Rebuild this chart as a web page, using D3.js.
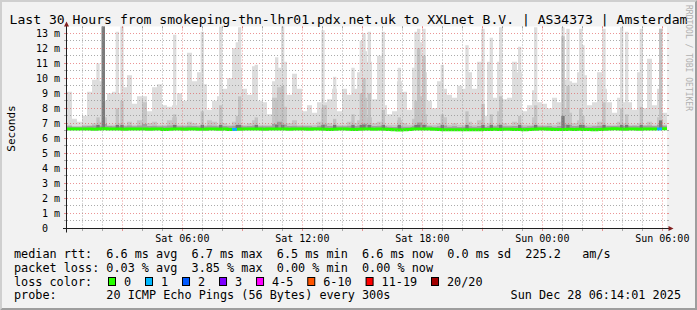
<!DOCTYPE html>
<html>
<head>
<meta charset="utf-8">
<script src="https://cdn.jsdelivr.net/npm/d3@7"></script>
<style>
  body { margin: 0; background: #f2f2f2; }
  svg { display: block; }
  text { font-family: "DejaVu Sans Mono", monospace; fill: #000; }
</style>
</head>
<body>
<div id="chart"></div>
<script>
// time span of the graph (30 hours, one value every 15 minutes)
const startTime = new Date(2025, 11, 27, 0, 14, 1);
const endTime = new Date(2025, 11, 28, 6, 14, 1);
const stepMinutes = 15;

// median rtt (ms)
const medianRtt = [
  6.63,6.62,6.62,6.63,6.62,6.61,6.62,6.64,6.63,6.62, 6.62,6.61,6.63,6.62,6.62,6.63,6.61,6.62,6.62,6.60,
  6.61,6.62,6.62,6.61,6.62,6.62,6.61,6.61,6.62,6.62, 6.61,6.62,6.60,6.59,6.61,6.62,6.63,6.62,6.62,6.61,
  6.62,6.62,6.63,6.62,6.61,6.62,6.62,6.63,6.61,6.62, 6.62,6.61,6.60,6.61,6.62,6.62,6.61,6.60,6.61,6.62,
  6.62,6.61,6.62,6.61,6.60,6.58,6.56,6.57,6.60,6.62, 6.63,6.62,6.62,6.61,6.60,6.58,6.57,6.58,6.57,6.58,
  6.57,6.58,6.57,6.59,6.60,6.61,6.60,6.61,6.61,6.60, 6.59,6.58,6.60,6.61,6.62,6.62,6.61,6.60,6.59,6.60,
  6.61,6.60,6.61,6.60,6.59,6.58,6.60,6.61,6.63,6.64, 6.62,6.61,6.62,6.63,6.61,6.63,6.62,6.63,6.62,6.64
];
// lost pings out of 20
const lossCount = [
  0,0,0,0,0,0,0,0,0,0, 0,0,0,0,0,0,0,0,0,0, 0,0,0,0,0,0,0,0,0,0, 0,0,0,1,0,0,0,0,0,0,
  0,0,0,0,0,0,0,0,0,0, 0,0,0,0,0,0,0,0,0,0, 0,0,0,0,0,0,0,0,0,0, 0,0,0,0,0,0,0,0,0,0,
  0,0,0,0,0,0,0,0,0,0, 0,0,0,0,0,0,0,0,0,0, 0,0,0,0,0,0,0,0,0,0, 0,0,0,0,0,0,0,0,1,0
];
// smoke: highest ping (ms)
const maxRtt = [
  9.1,7.3,7.1,7.5,9.1,9.9,9.8,8.5,9.0,9.1, 9.0,9.4,10.2,8.3,8.8,8.8,7.8,9.4,9.6,8.2,
  8.1,8.2,9.0,8.5,11.7,9.8,10.4,9.6,7.9,8.5, 8.8,9.3,10.0,12.0,10.7,9.3,8.9,10.8,8.5,8.4,
  7.6,9.8,10.7,11.1,8.9,10.3,9.3,7.8,8.2,7.7, 8.4,8.4,8.6,9.3,7.8,9.3,8.9,9.3,10.4,11.8,
  11.1,8.6,11.5,8.2,7.6,7.8,9.8,9.1,7.9,10.7, 12.4,10.4,8.5,8.0,9.8,9.3,8.9,8.7,9.5,9.3,
  10.4,9.3,11.1,7.5,11.1,8.7,11.1,8.6,8.7,11.1, 10.4,7.8,8.2,9.2,8.4,8.3,8.0,8.7,8.4,9.9,
  9.8,9.7,10.4,10.2,8.2,8.4,10.4,9.3,8.4,7.7, 8.7,8.4,8.4,7.9,10.4,8.0,11.3,8.2,9.3,7.7
];
// smoke: upper quartile ping (ms)
const midRtt = [
  6.9,6.8,6.8,6.9,6.9,7.0,7.1,7.4,6.9,6.9, 7.0,6.9,7.1,6.9,7.2,8.4,7.0,7.1,6.9,6.9,
  7.2,7.4,6.9,6.9,7.1,7.0,6.9,6.9,7.2,7.1, 6.9,7.0,6.9,7.1,6.9,6.9,7.0,7.2,6.9,6.9,
  6.9,8.7,9.4,8.1,7.0,7.2,6.9,6.9,6.9,6.9, 7.1,8.2,7.0,6.9,6.9,6.9,7.1,7.0,7.2,8.7,
  7.4,7.0,7.1,6.9,6.9,6.9,7.2,7.0,6.9,7.3, 8.8,7.6,6.9,6.9,7.0,7.4,6.9,7.0,6.9,6.9,
  7.1,6.9,7.2,6.9,7.0,6.9,7.8,7.0,6.9,7.1, 7.0,6.9,6.9,7.4,6.9,6.9,7.0,6.9,7.1,8.0,
  7.7,7.0,7.2,6.9,6.9,6.9,7.1,6.9,6.9,6.9, 7.1,7.0,6.9,6.9,7.0,6.9,7.1,6.9,7.4,6.9
];
// smoke: pings next to the median (ms)
const coreRtt = [
  6.80,6.78,6.78,6.80,6.82,6.85,6.84,6.95,6.82,6.80, 6.82,6.80,6.85,6.80,6.86,6.95,6.82,6.84,6.80,6.80,
  6.85,6.88,6.80,6.80,6.84,6.82,6.80,6.80,6.86,6.84, 6.80,6.82,6.80,6.84,6.80,6.80,6.82,6.86,6.80,6.80,
  6.80,6.95,7.10,6.92,6.82,6.84,6.80,6.80,6.80,6.78, 6.84,6.92,6.82,6.80,6.80,6.80,6.84,6.82,6.86,6.98,
  6.88,6.82,6.84,6.80,6.78,6.76,6.80,6.78,6.78,6.84, 7.05,6.90,6.80,6.78,6.80,6.86,6.78,6.80,6.76,6.78,
  6.80,6.78,6.82,6.76,6.80,6.80,6.90,6.80,6.80,6.82, 6.80,6.78,6.80,6.84,6.80,6.80,6.82,6.78,6.82,6.92,
  6.90,6.82,6.84,6.80,6.78,6.80,6.84,6.80,6.82,6.82, 6.84,6.82,6.82,6.84,6.82,6.84,6.86,6.82,6.90,6.84
];

// short bursts with a very high ping
const spikeAt = [
  "27 01:42","27 01:58","27 02:40","27 02:54","27 05:32","27 06:55","27 07:50","27 08:40","27 08:47","27 09:37",
  "27 10:38","27 10:56","27 12:57","27 13:32","27 14:27","27 14:52","27 15:00","27 15:16","27 15:58","27 16:46",
  "27 17:36","27 17:44","27 18:00","27 18:55","27 20:09","27 20:57","27 21:22","27 21:50","27 22:47","27 23:35",
  "28 00:57","28 01:12","28 01:50","28 01:57","28 03:00","28 03:53","28 04:08","28 04:52","28 05:50"
];
const spikeMax = [
  11.0,13.5,13.1,13.5,12.9,13.1,13.5,12.4,13.4,10.9, 11.4,13.5,13.2,10.1,10.7,12.5,13.0,13.1,13.1,10.7,
  13.1,13.3,13.3,10.9,12.2,13.3,12.7,13.4,12.1,13.4, 13.4,13.3,13.3,12.2,13.3,13.4,13.1,13.3,13.3
];
const spikeMid = [
  7.4,13.5,8.0,8.5,7.6,7.8,8.2,7.5,8.8,7.4, 8.5,9.5,8.0,7.3,7.6,9.0,10.0,9.0,7.9,7.4,
  8.5,12.0,11.5,7.6,7.8,8.3,7.6,8.8,7.5,8.2, 12.8,9.5,8.0,7.5,8.4,8.0,7.6,8.1,13.3
];
const spikeCore = [
  6.9,13.5,6.9,6.9,6.9,6.9,6.9,6.9,6.9,6.9, 6.9,6.9,6.9,6.9,6.9,6.9,6.9,6.9,6.9,6.9,
  6.9,6.9,6.9,6.9,6.9,6.9,6.9,6.9,6.9,6.9, 7.5,6.9,6.9,6.9,6.9,6.9,6.9,6.9,7.2
];

const lossLegend = [
  {label: "0", max: 0, color: "#26ff00"},
  {label: "1", max: 1, color: "#00b8ff"},
  {label: "2", max: 2, color: "#0059ff"},
  {label: "3", max: 3, color: "#7e00ff"},
  {label: "4-5", max: 5, color: "#ff00ff"},
  {label: "6-10", max: 10, color: "#ff5500"},
  {label: "11-19", max: 19, color: "#ff0000"},
  {label: "20/20", max: 20, color: "#a10000"}
];

const W = 697, H = 310;
const X0 = 67, X1 = 667, Y0 = 228.5, Y1 = 26.5;

const svg = d3.select("#chart").append("svg")
    .attr("width", W)
    .attr("height", H);

// background with 3d border
svg.append("rect").attr("width", W).attr("height", H).attr("fill", "#f2f2f2");
svg.append("polygon")
    .attr("points", [[0,0],[W,0],[W-2,2],[2,2],[2,H-2],[0,H]].join(" "))
    .attr("fill", "#cfcfcf");
svg.append("polygon")
    .attr("points", [[W,H],[0,H],[2,H-2],[W-2,H-2],[W-2,2],[W,0]].join(" "))
    .attr("fill", "#9e9e9e");

const x = d3.scaleTime().domain([startTime, endTime]).range([X0, X1]);
const y = d3.scaleLinear().domain([0, 13.45]).range([Y0, Y1]);

// canvas
svg.append("rect")
    .attr("x", X0).attr("y", Y1)
    .attr("width", X1 - X0).attr("height", Y0 - Y1)
    .attr("fill", "#fff");

svg.append("clipPath").attr("id", "clip")
  .append("rect")
    .attr("x", X0).attr("y", Y1)
    .attr("width", X1 - X0).attr("height", Y0 - Y1);

// one record per 15 minute step, plus a closing record at the end
const bins = maxRtt.map((v, i) => ({
  t: d3.timeMinute.offset(startTime, i * stepMinutes),
  max: v, mid: midRtt[i], core: coreRtt[i], med: medianRtt[i], loss: lossCount[i]
}));
bins.push(Object.assign({}, bins[bins.length - 1], {t: endTime}));

const plot = svg.append("g").attr("clip-path", "url(#clip)");

const smoke = key => d3.area()
    .curve(d3.curveStepAfter)
    .x(d => x(d.t))
    .y0(d => y(d.med))
    .y1(d => y(d[key]));

// spikes
const parseSpike = d3.timeParse("%Y-%m-%d %H:%M");
const spikes = spikeAt.map((s, i) => {
  const t = parseSpike("2025-12-" + s);
  const bin = bins[Math.min(bins.length - 2, Math.floor((t - startTime) / 60000 / stepMinutes))];
  return {t: t, t2: d3.timeMinute.offset(t, 10), max: spikeMax[i], mid: spikeMid[i], core: spikeCore[i], med: bin.med};
});
const spikeRects = (key, color) => plot.append("g")
  .selectAll("rect")
  .data(spikes)
  .join("rect")
    .attr("x", d => x(d.t))
    .attr("width", d => x(d.t2) - x(d.t))
    .attr("y", d => y(d[key]))
    .attr("height", d => y(d.med) - y(d[key]))
    .attr("fill", color);

plot.append("path").datum(bins).attr("d", smoke("max")).attr("fill", "#dddddd");
spikeRects("max", "#dddddd");
plot.append("path").datum(bins).attr("d", smoke("mid")).attr("fill", "#c6c6c6");
spikeRects("mid", "#c2c2c2");
plot.append("path").datum(bins).attr("d", smoke("core")).attr("fill", "#a0a0a0");
spikeRects("core", "#7a7a7a");

// median line coloured by loss
const lossColor = n => lossLegend.find(c => n <= c.max).color;
const medLine = d3.line().curve(d3.curveStepAfter).x(d => x(d.t)).y(d => y(d.med));
let runs = [];
for (let i = 0; i < bins.length - 1; i++) {
  const c = lossColor(bins[i].loss);
  if (!runs.length || runs[runs.length - 1].color !== c) runs.push({color: c, pts: []});
  runs[runs.length - 1].pts.push(bins[i]);
}
runs.forEach(r => {
  const last = r.pts[r.pts.length - 1];
  const next = bins[bins.indexOf(last) + 1];
  r.pts.push({t: next.t, med: last.med});
});
plot.selectAll(".med")
  .data(runs)
  .join("path")
    .attr("class", "med")
    .attr("d", d => medLine(d.pts))
    .attr("fill", "none")
    .attr("stroke", d => d.color)
    .attr("stroke-width", 3);

// grid
const gridCol = "rgba(143,143,143,0.75)";
const mgridCol = "rgba(222,79,79,0.6)";
const grid = svg.append("g");
const hVals = d3.range(1, 27).map(i => i / 2);
hVals.forEach(v => {
  const py = Math.floor(y(v)) + 0.5;
  const col = v % 1 === 0 ? mgridCol : gridCol;
  grid.append("line").attr("x1", X0 - 3).attr("x2", X0).attr("y1", py).attr("y2", py).attr("stroke", col);
  grid.append("line").attr("x1", X1).attr("x2", X1 + 2).attr("y1", py).attr("y2", py).attr("stroke", col);
  grid.append("line").attr("x1", X0).attr("x2", X1).attr("y1", py).attr("y2", py)
      .attr("stroke", col).attr("stroke-dasharray", "1,2");
});
d3.timeHour.range(startTime, endTime).forEach(t => {
  const px = Math.floor(x(t)) + 0.5;
  const col = t.getHours() % 3 === 0 ? mgridCol : gridCol;
  grid.append("line").attr("x1", px).attr("x2", px).attr("y1", Y0).attr("y2", Y0 + 2.5).attr("stroke", col);
  grid.append("line").attr("x1", px).attr("x2", px).attr("y1", Y1).attr("y2", Y1 + 2).attr("stroke", col);
  grid.append("line").attr("x1", px).attr("x2", px).attr("y1", Y0).attr("y2", Y1)
      .attr("stroke", col).attr("stroke-dasharray", "1,2");
});

// axes
svg.append("line").attr("x1", X0 - 4).attr("x2", X1 + 3).attr("y1", Y0).attr("y2", Y0)
    .attr("stroke", "#1f1f1f");
svg.append("line").attr("x1", X0 - 0.5).attr("x2", X0 - 0.5).attr("y1", Y0 + 4).attr("y2", Y1 - 1)
    .attr("stroke", "#1f1f1f");
svg.append("polygon")
    .attr("points", [[X0 - 3, Y1], [X0 + 2, Y1], [X0 - 0.5, Y1 - 5]].join(" "))
    .attr("fill", "#801f1f");
svg.append("polygon")
    .attr("points", [[X1 + 1.5, Y0 - 2.5], [X1 + 1.5, Y0 + 2.5], [X1 + 6.5, Y0]].join(" "))
    .attr("fill", "#801f1f");

// y labels
d3.range(0, 14).forEach(v => {
  svg.append("text")
      .attr("x", v === 0 ? 48 : 60)
      .attr("y", Math.floor(y(v)) + 4)
      .attr("text-anchor", "end")
      .attr("font-size", 10)
      .text(v === 0 ? "0" : v + " m");
});

// x labels
x.ticks(d3.timeHour.every(6)).forEach(t => {
  svg.append("text")
      .attr("x", x(t))
      .attr("y", 241.5)
      .attr("text-anchor", "middle")
      .attr("font-size", 10)
      .text(d3.timeFormat("%a %H:%M")(t));
});

// title, axis title, watermark
svg.append("text")
    .attr("x", W / 2).attr("y", 24)
    .attr("text-anchor", "middle")
    .attr("font-size", 13.1)
    .text("Last 30 Hours from smokeping-thn-lhr01.pdx.net.uk to XXLnet B.V. | AS34373 | Amsterdam");
svg.append("text")
    .attr("transform", "translate(14.5,128.5) rotate(-90)")
    .attr("text-anchor", "middle")
    .attr("font-family", "DejaVu Sans")
    .attr("font-size", 11)
    .text("Seconds");
svg.append("text")
    .attr("transform", "translate(685.5,5) rotate(90)")
    .attr("font-size", 8)
    .style("fill", "#b0b0b0")
    .text("RRDTOOL / TOBI OETIKER");

// legend
const legendFont = 11.8;
const charW = legendFont * 0.602;
const legendRows = [
  {y: 258.3, text: "median rtt:  6.6 ms avg  6.7 ms max  6.5 ms min  6.6 ms now  0.0 ms sd  225.2   am/s"},
  {y: 272, text: "packet loss: 0.03 % avg  3.85 % max  0.00 % min  0.00 % now"},
  {y: 285.7, text: "loss color:"},
  {y: 299.3, text: "probe:       20 ICMP Echo Pings (56 Bytes) every 300s"}
];
legendRows.forEach(r => {
  svg.append("text")
      .attr("x", 14).attr("y", r.y)
      .attr("font-size", legendFont)
      .style("white-space", "pre")
      .text(r.text);
});
let bx = 108.5;
lossLegend.forEach(c => {
  svg.append("rect")
      .attr("x", bx).attr("y", 277.5)
      .attr("width", 7).attr("height", 8)
      .attr("fill", c.color)
      .attr("stroke", "#000");
  svg.append("text")
      .attr("x", bx + 15.5).attr("y", 285.7)
      .attr("font-size", legendFont)
      .text(c.label);
  bx += 15.7 + (c.label.length + 2) * charW;
});
svg.append("text")
    .attr("x", 681).attr("y", 299.3)
    .attr("text-anchor", "end")
    .attr("font-size", legendFont)
    .text("Sun Dec 28 06:14:01 2025");
</script>
</body>
</html>
